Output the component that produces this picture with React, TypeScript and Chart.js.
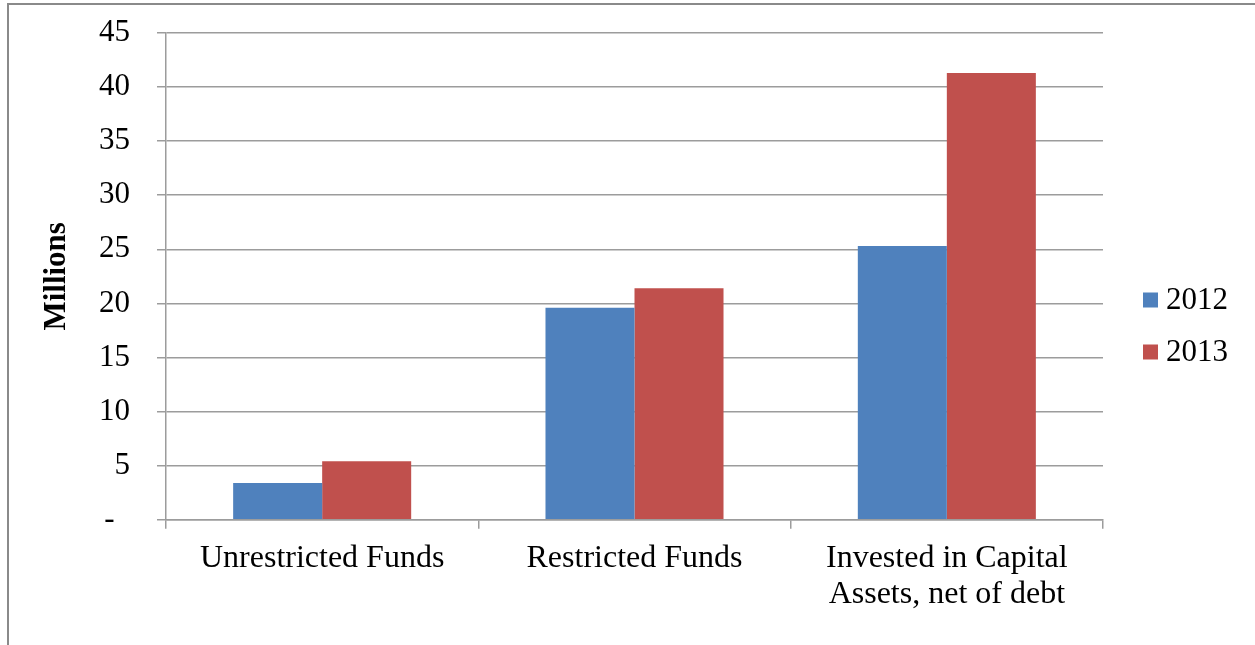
import React, { useEffect, useRef } from "react";
import { Chart, registerables } from "chart.js";

Chart.register(...registerables);

const categories: (string | string[])[] = [
  "Unrestricted Funds",
  "Restricted Funds",
  ["Invested in Capital", "Assets, net of debt"],
];
const seriesNames = ["2012", "2013"];
const values2012 = [3.4, 19.6, 25.3];
const values2013 = [5.4, 21.4, 41.3];
const seriesColors = ["#4F81BD", "#C0504D"];
const yMin = 0;
const yMax = 45;
const yStep = 5;
const zeroTickLabel = "-  ";
const yTitle = "Millions";

const FONT = "'Liberation Serif', 'Times New Roman', serif";
const GRID = "#9c9c9c";

const sideLegend = {
  id: "sideLegend",
  afterDraw(chart: any) {
    const { ctx, chartArea } = chart;
    const ds = chart.data.datasets;
    const box = 15;
    const gap = 52;
    const x = chartArea.right + 40;
    const centerY = chart.height / 2 + 3.5;
    const startY = centerY - (gap * (ds.length - 1)) / 2;
    ctx.save();
    ds.forEach((d: any, i: number) => {
      const cy = startY + i * gap;
      ctx.fillStyle = d.backgroundColor;
      ctx.fillRect(x, cy - box / 2, box, box);
      ctx.fillStyle = "#000";
      ctx.font = `31px ${FONT}`;
      ctx.textAlign = "left";
      ctx.textBaseline = "alphabetic";
      ctx.fillText(d.label, x + box + 8, cy + box / 2 + 1);
    });
    ctx.restore();
  },
};

export default function App() {
  const ref = useRef<HTMLCanvasElement | null>(null);

  useEffect(() => {
    if (!ref.current) return;
    const chart = new Chart(ref.current, {
      type: "bar",
      data: {
        labels: categories,
        datasets: [
          {
            label: seriesNames[0],
            data: values2012,
            backgroundColor: seriesColors[0],
            categoryPercentage: 0.57,
            barPercentage: 1,
          },
          {
            label: seriesNames[1],
            data: values2013,
            backgroundColor: seriesColors[1],
            categoryPercentage: 0.57,
            barPercentage: 1,
          },
        ],
      },
      options: {
        animation: false,
        responsive: true,
        maintainAspectRatio: false,
        layout: { padding: { left: 41, top: 33, right: 152, bottom: 20 } },
        plugins: {
          legend: { display: false },
          tooltip: { enabled: false },
        },
        scales: {
          x: {
            grid: {
              display: true,
              offset: true,
              drawOnChartArea: false,
              drawTicks: true,
              tickLength: 9,
              color: GRID,
              lineWidth: 1.5,
            },
            border: { display: true, color: GRID, width: 1.5 },
            ticks: {
              color: "#000",
              font: { family: FONT, size: 32, lineHeight: 1.13 },
              padding: 12,
              maxRotation: 0,
              autoSkip: false,
            },
          },
          y: {
            min: yMin,
            max: yMax,
            grid: {
              color: GRID,
              lineWidth: 1.5,
              drawTicks: true,
              tickLength: 9,
            },
            border: { display: true, color: GRID, width: 1.5 },
            ticks: {
              stepSize: yStep,
              color: "#000",
              padding: 27,
              font: { family: FONT, size: 31, lineHeight: 0.3 },
              callback: (v: any) => (Number(v) === 0 ? zeroTickLabel : String(v)),
            },
            title: {
              display: true,
              text: yTitle,
              color: "#000",
              font: { family: FONT, size: 31, weight: "bold", lineHeight: 1 },
              padding: { top: 0, bottom: 0 },
            },
          },
        },
      },
      plugins: [sideLegend],
    });
    return () => chart.destroy();
  }, []);

  return (
    <div style={{ position: "fixed", left: 0, top: 0, width: 1255, height: 645, background: "#fff" }}>
      <div
        style={{
          position: "absolute",
          left: 7,
          top: 3,
          width: 1400,
          height: 800,
          borderTop: "2px solid #8a8a8a",
          borderLeft: "2px solid #8a8a8a",
          boxSizing: "border-box",
        }}
      />
      <div style={{ position: "absolute", left: 0, top: 0, width: 1255, height: 645 }}>
        <canvas ref={ref} />
      </div>
    </div>
  );
}
